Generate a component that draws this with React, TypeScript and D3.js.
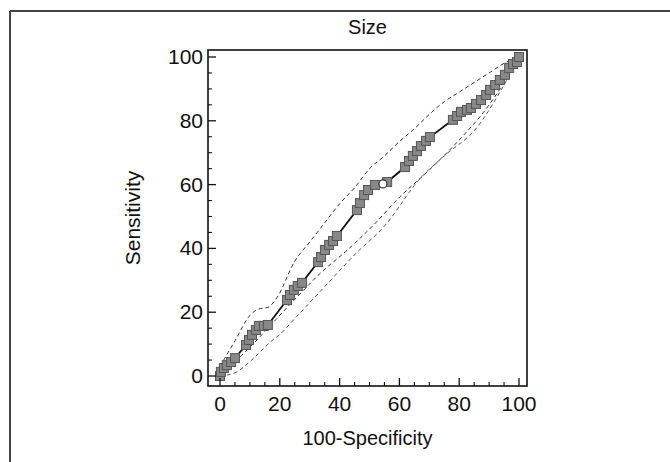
import React from "react";
import * as d3 from "d3";

const rocX = [0,0.3,1.3,2.3,3.7,5,8.7,9.7,10.7,12,13,14.7,16,22.4,23.4,24.7,26,27.4,32.8,33.8,35.1,36.5,37.8,39.1,45.8,46.8,48.2,49.5,51.8,55.9,61.9,63.2,64.5,65.9,67.2,68.9,70.2,77.9,79.3,80.6,82.6,83.9,85.6,87.3,89,90.3,92,93.6,95.3,96.7,98,99.3,100];
const rocY = [0,1.3,2.5,3.4,4.4,5.6,9.7,11.3,12.9,14.4,15.7,15.7,16,23.8,25.4,27,28.2,29.2,35.7,37.3,39.5,41.1,42.3,43.9,52,54.2,56.7,58.3,59.9,60.8,65.5,67.4,69,70.5,72.1,73.7,74.9,80.3,81.5,82.8,83.4,84,85.3,86.5,88.1,89.7,91.2,92.8,94.4,96.6,97.8,98.4,100];
const optimalPoint = [54.5, 60.2];

const upperX = [0,5,10,13,16,19,25,30,35,40,45,50,55,60,65,70,75,80,85,90,95,100];
const upperY = [3,11,19,21,21.5,24.5,36,42,48,54,59,65,69,73.5,77.5,82,86,89,92,95,98,100];
const midX = [0,5,10,17,25,34,42,51,60,70,80,90,95,100];
const midY = [0,4.5,9,16,24,32.6,39,47,56,64.6,74,85,92,100];
const lowerX = [0,5,10,15,17,20,25,35,45,55,67,75,86,93,100];
const lowerY = [0,1,4.5,9,10.8,13,18,28,38,47,62,69,78,88,100];

const xTicks = [0,20,40,60,80,100];
const yTicks = [0,20,40,60,80,100];
const minorTicks = [5,10,15,25,30,35,45,50,55,65,70,75,85,90,95];

export default function App() {
  const W = 670, H = 462;
  const box = { l: 208, r: 527, t: 50, b: 386 };
  const x = d3.scaleLinear().domain([0, 100]).range([220, 519]);
  const y = d3.scaleLinear().domain([0, 100]).range([376, 57]);
  const mk = (xs: number[], ys: number[], curve: any) =>
    d3.line<number>().x((d) => x(xs[d])).y((d) => y(ys[d])).curve(curve)(xs.map((_, i) => i)) || "";
  const font = "Arial, 'Liberation Sans', sans-serif";
  const fs = 21;
  const sq = 9;
  return (
    <svg width={W} height={H} style={{ position: "absolute", left: 0, top: 0, background: "#fff" }}>
      <rect x={0} y={0} width={W} height={H} fill="#fff" />
      <line x1={10} y1={11} x2={W} y2={11} stroke="#444" strokeWidth={2} />
      <line x1={10} y1={11} x2={10} y2={H} stroke="#444" strokeWidth={2} />
      <text x={(box.l + box.r) / 2} y={34} textAnchor="middle" fontFamily={font} fontSize={20} fill="#111">Size</text>
      <path d={mk(upperX, upperY, d3.curveMonotoneX)} fill="none" stroke="#333" strokeWidth={1} strokeDasharray="4,3" />
      <path d={mk(midX, midY, d3.curveMonotoneX)} fill="none" stroke="#333" strokeWidth={1} strokeDasharray="4,3" />
      <path d={mk(lowerX, lowerY, d3.curveMonotoneX)} fill="none" stroke="#555" strokeWidth={1} strokeDasharray="4,3" />
      <path d={mk(rocX, rocY, d3.curveLinear)} fill="none" stroke="#111" strokeWidth={1.8} />
      {rocX.map((v, i) => (
        <rect key={i} x={x(v) - sq / 2} y={y(rocY[i]) - sq / 2} width={sq} height={sq} fill="#888" stroke="#555" strokeWidth={1} />
      ))}
      <circle cx={x(optimalPoint[0])} cy={y(optimalPoint[1])} r={4} fill="#fff" stroke="#333" strokeWidth={1.2} />
      <rect x={box.l} y={box.t} width={box.r - box.l} height={box.b - box.t} fill="none" stroke="#111" strokeWidth={1.6} />
      {xTicks.map((t) => (
        <g key={"x" + t}>
          <line x1={x(t)} x2={x(t)} y1={box.b} y2={box.b - 8} stroke="#111" strokeWidth={1.3} />
          <text x={x(t)} y={box.b + 25} textAnchor="middle" fontFamily={font} fontSize={fs} fill="#111">{t}</text>
        </g>
      ))}
      {minorTicks.map((t) => (
        <line key={"xm" + t} x1={x(t)} x2={x(t)} y1={box.b} y2={box.b - 4} stroke="#111" strokeWidth={1.1} />
      ))}
      {yTicks.map((t) => (
        <g key={"y" + t}>
          <line x1={box.l} x2={box.l + 8} y1={y(t)} y2={y(t)} stroke="#111" strokeWidth={1.3} />
          <text x={box.l - 5} y={y(t) + 7} textAnchor="end" fontFamily={font} fontSize={fs} fill="#111">{t}</text>
        </g>
      ))}
      {minorTicks.map((t) => (
        <line key={"ym" + t} x1={box.l} x2={box.l + 4} y1={y(t)} y2={y(t)} stroke="#111" strokeWidth={1.1} />
      ))}
      <text x={(box.l + box.r) / 2} y={445} textAnchor="middle" fontFamily={font} fontSize={20} fill="#111">100-Specificity</text>
      <text transform={`translate(140,${(box.t + box.b) / 2}) rotate(-90)`} textAnchor="middle" fontFamily={font} fontSize={21} fill="#111">Sensitivity</text>
    </svg>
  );
}
